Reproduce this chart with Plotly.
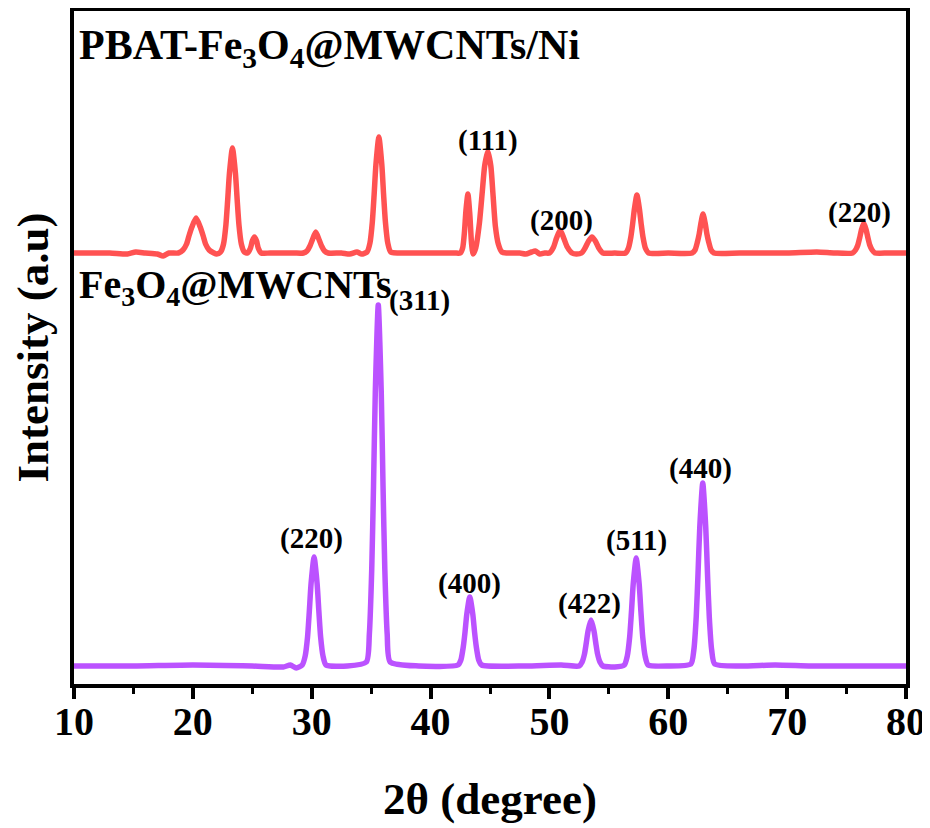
import plotly.graph_objects as go

# ---- Fe3O4@MWCNTs (purple) : 2theta, intensity (a.u.) ----
fe_x = [10, 15, 20, 25, 27.6, 28.2, 28.7,
        29.2, 29.45, 29.65, 29.8, 29.95, 30.2, 30.45, 30.6, 30.75, 30.95, 31.2,
        33.0,
        34.6, 34.85, 35.05, 35.2, 35.35, 35.6, 35.85, 36.0, 36.15, 36.35, 36.6,
        39.0,
        42.3, 42.55, 42.75, 42.9, 43.05, 43.3, 43.55, 43.7, 43.85, 44.05, 44.3,
        48.0, 51.0,
        52.5, 52.75, 52.95, 53.1, 53.25, 53.5, 53.75, 53.9, 54.05, 54.25, 54.5,
        55.5,
        56.3, 56.55, 56.75, 56.9, 57.05, 57.3, 57.55, 57.7, 57.85, 58.05, 58.3,
        60.0,
        61.9, 62.15, 62.35, 62.5, 62.65, 62.9, 63.15, 63.3, 63.45, 63.65, 63.9,
        66.0, 69.0, 72.0, 76.0, 80.0]
fe_y = [18, 18, 19, 18, 17, 19, 16,
        19, 28, 47, 73, 101, 127, 101, 73, 47, 28, 19,
        18,
        22, 50, 115, 198, 292, 379, 292, 198, 115, 50, 22,
        18,
        19, 24, 37, 52, 70, 87, 70, 52, 37, 24, 19,
        18, 19,
        18, 22, 30, 41, 53, 64, 53, 41, 30, 22, 18,
        17,
        19, 28, 47, 72, 100, 126, 100, 72, 47, 28, 19,
        18,
        20, 34, 67, 110, 157, 201, 157, 110, 67, 34, 20,
        18, 19, 18, 18, 18]

# ---- PBAT-Fe3O4@MWCNTs/Ni (red), stacked above ----
ni_x = [10, 13, 14.5, 15.2, 16, 17, 17.5, 18.0,
        18.77, 19.17, 19.47, 19.67, 19.92, 20.27, 20.62, 20.87, 21.07, 21.37, 21.77,
        22.0,
        22.33, 22.58, 22.78, 22.93, 23.08, 23.33, 23.58, 23.73, 23.88, 24.08, 24.33,
        24.6, 24.85, 25.0, 25.18, 25.36, 25.5, 25.75,
        26.5, 28.5,
        29.3, 29.6, 29.85, 30.05, 30.34, 30.63, 30.83, 31.08, 31.38,
        32.5, 33.2, 33.8, 34.2,
        34.65, 34.9, 35.1, 35.25, 35.4, 35.65, 35.9, 36.05, 36.2, 36.4, 36.65,
        38.0, 40.0, 42.0,
        42.5, 42.7, 42.85, 42.98, 43.14, 43.3, 43.45, 43.58,
        43.8, 44.1, 44.35, 44.55, 44.82, 45.07, 45.25, 45.45, 45.7, 46.0, 46.4,
        47.5, 48.0, 48.5, 48.8, 49.2, 49.6,
        50.0, 50.35, 50.6, 50.9, 51.2, 51.5, 51.9, 52.26,
        52.7, 53.0, 53.3, 53.58, 53.86, 54.15, 54.5,
        55.5,
        56.4, 56.65, 56.85, 57.0, 57.15, 57.36, 57.57, 57.72, 57.87, 58.07, 58.35,
        60.0,
        62.0, 62.25, 62.45, 62.6, 62.75, 62.92, 63.1, 63.25, 63.4, 63.6, 63.85,
        66.0, 70.0, 72.5, 74.0,
        75.5, 75.75, 75.95, 76.1, 76.25, 76.45, 76.65, 76.8, 76.95, 77.15, 77.4,
        78.5, 80.0]
ni_y = [431, 431, 430, 432, 431, 430, 428, 431,
        431, 434, 440, 448, 457, 466, 457, 448, 440, 434, 431,
        430,
        432, 440, 459, 484, 511, 536, 511, 484, 459, 440, 432,
        431, 436, 443, 447, 443, 436, 431,
        431, 431,
        431, 433, 438, 444, 452, 444, 438, 433, 431,
        431, 430, 432, 430,
        432, 441, 462, 489, 519, 547, 519, 489, 462, 441, 432,
        431, 431, 431,
        431, 436, 452, 474, 490, 470, 440, 430,
        436, 460, 492, 518, 533, 518, 490, 458, 440, 432, 431,
        431, 430, 432, 433, 430, 431,
        431, 437, 446, 454, 446, 437, 431, 430,
        431, 436, 443, 447, 443, 436, 431,
        431,
        431, 436, 447, 460, 475, 489, 475, 460, 447, 436, 431,
        431,
        431, 434, 442, 450, 461, 470, 461, 450, 442, 434, 431,
        431, 431, 432, 431,
        431, 434, 439, 446, 454, 461, 454, 446, 439, 434, 431,
        431, 431]

# ---- peak labels ----
lab_text = ["(111)", "(200)", "(220)", "(311)", "(220)", "(400)", "(422)", "(511)", "(440)"]
lab_x = [44.85, 51.0, 76.1, 39.1, 30.0, 43.3, 53.35, 57.3, 62.7]
lab_y = [544, 464, 472, 384, 146, 101, 81, 144, 216]

sample_names = ["PBAT-Fe<sub>3</sub>O<sub>4</sub>@MWCNTs/Ni", "Fe<sub>3</sub>O<sub>4</sub>@MWCNTs"]
sample_x = [10.25, 10.25]
sample_y = [636, 397]
sample_size = [42, 40]

FONT = "Liberation Serif, Times New Roman, serif"
RED = "#FF5252"
PURPLE = "#BB52FF"

fig = go.Figure()
fig.add_trace(go.Scatter(x=fe_x, y=fe_y, mode="lines",
                         line=dict(color=PURPLE, width=5.5, shape="spline", smoothing=0.6),
                         showlegend=False))
fig.add_trace(go.Scatter(x=ni_x, y=ni_y, mode="lines",
                         line=dict(color=RED, width=5.5, shape="spline", smoothing=0.6),
                         showlegend=False))

for t, x, y in zip(lab_text, lab_x, lab_y):
    fig.add_annotation(x=x, y=y, text="<b>" + t + "</b>", showarrow=False,
                       font=dict(family=FONT, size=29, color="black"))
for t, x, y, s in zip(sample_names, sample_x, sample_y, sample_size):
    fig.add_annotation(x=x, y=y, text="<b>" + t + "</b>", showarrow=False,
                       xanchor="left", font=dict(family=FONT, size=s, color="black"))

# page body adds an 8px offset; sizes/margins compensate so the plot box sits at 74..906 x 11..684
fig.update_layout(
    width=922, height=820,
    margin=dict(l=66, r=24, t=3, b=144, autoexpand=False),
    plot_bgcolor="white", paper_bgcolor="white",
    font=dict(family=FONT, color="black"),
)
fig.update_xaxes(range=[10, 80], dtick=10, tick0=10, automargin=False,
                 showline=True, linecolor="black", linewidth=4, mirror=True,
                 ticks="outside", ticklen=11, tickwidth=4, tickcolor="black",
                 minor=dict(dtick=5, ticks="outside", ticklen=6, tickwidth=3, tickcolor="black"),
                 showgrid=False, zeroline=False, ticklabelstandoff=-12,
                 tickfont=dict(family=FONT, size=40, color="black", weight="bold"),
                 title=dict(text="<b>2θ (degree)</b>", font=dict(family=FONT, size=45, color="black"),
                            standoff=40))
fig.update_yaxes(range=[0, 673], automargin=False,
                 showline=True, linecolor="black", linewidth=4, mirror=True,
                 showticklabels=False, ticks="", showgrid=False, zeroline=False,
                 title=dict(text="<b>Intensity (a.u)</b>", font=dict(family=FONT, size=45, color="black"),
                            standoff=12))

fig.write_html("out.html")
